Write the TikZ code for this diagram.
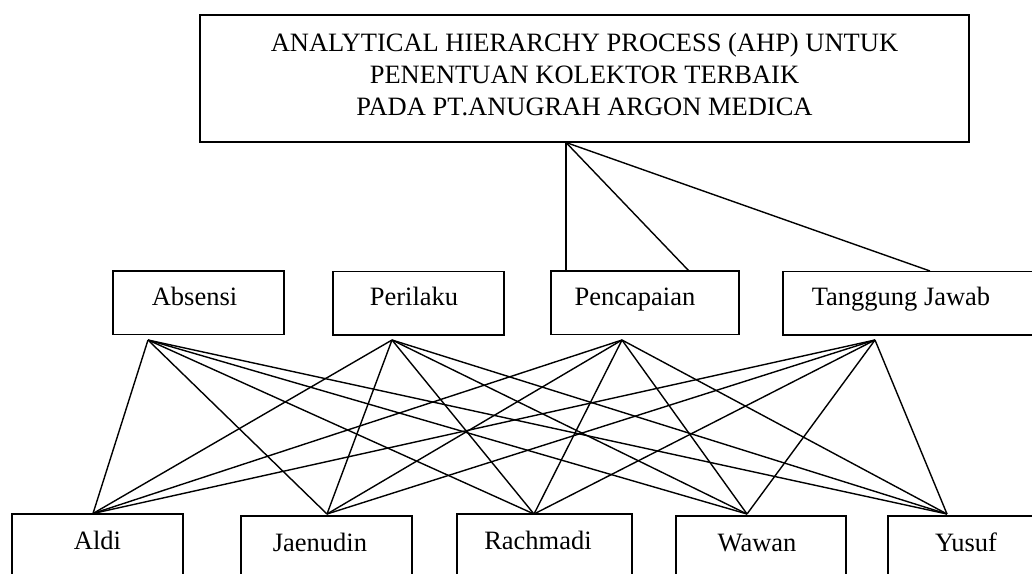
\documentclass[tikz,border=0pt]{standalone}
\usepackage{fontspec}
\setmainfont{Liberation Serif}
\begin{document}
\begin{tikzpicture}[x=1pt,y=-1pt,
  box/.style={draw, line width=1.5pt, rectangle, inner sep=0pt, font=\fontsize{26.5}{31.7}\selectfont},
  crit/.style={box, minimum height=63.5pt, text height=12pt, text depth=7pt},
  alt/.style={box, minimum height=78pt, text height=3pt, text depth=11pt},
  link/.style={line width=1.4pt}]
\useasboundingbox (0,0) rectangle (1032,573);
% goal
\node[box, minimum width=769pt, minimum height=127pt, align=center] (title) at (584.5,78.5)
  {ANALYTICAL HIERARCHY PROCESS (AHP) UNTUK\\PENENTUAN KOLEKTOR TERBAIK\\PADA PT.ANUGRAH ARGON MEDICA\rule[-8.6pt]{0pt}{0pt}};
% criteria
\node[crit, minimum width=171pt] (absensi) at (198.5,302.5) {Absensi\hspace*{8pt}};
\node[crit, minimum width=171pt] (perilaku) at (418.5,303) {Perilaku\hspace*{9pt}};
\node[crit, minimum width=188pt] (pencapaian) at (645,302.5) {Pencapaian\hspace*{20pt}};
\node[crit, minimum width=257pt] (tanggung) at (911.5,303) {Tanggung Jawab\hspace*{21pt}};
% alternatives
\node[alt, minimum width=171pt] (aldi) at (97.5,553) {Aldi};
\node[alt, minimum width=171pt] (jaenudin) at (326.5,555) {Jaenudin\hspace*{13pt}};
\node[alt, minimum width=175pt] (rachmadi) at (544.5,553) {Rachmadi\hspace*{13pt}};
\node[alt, minimum width=170pt] (wawan) at (761,555) {Wawan\hspace*{8pt}};
\node[alt, minimum width=156pt] (yusuf) at (966,555) {Yusuf};
% connection points
\coordinate (goalB) at (566,142.5);
\coordinate (pcA) at (566,271);
\coordinate (pcB) at (689,271);
\coordinate (tjA) at (930,271);
\coordinate (absB) at (148,340);
\coordinate (perB) at (392,340);
\coordinate (pcC) at (622,340);
\coordinate (tjB) at (875,340);
\coordinate (aldiT) at (93,513.5);
\coordinate (jaeT) at (327,514);
\coordinate (racT) at (534,514);
\coordinate (wawT) at (747,514);
\coordinate (yusT) at (947,514);
% goal to criteria
\draw[link] (goalB) -- (pcA);
\draw[link] (goalB) -- (pcB);
\draw[link] (goalB) -- (tjA);
% criteria to alternatives
\foreach \c in {absB,perB,pcC,tjB}
  \foreach \a in {aldiT,jaeT,racT,wawT,yusT}
    \draw[link] (\c) -- (\a);
\end{tikzpicture}
\end{document}
